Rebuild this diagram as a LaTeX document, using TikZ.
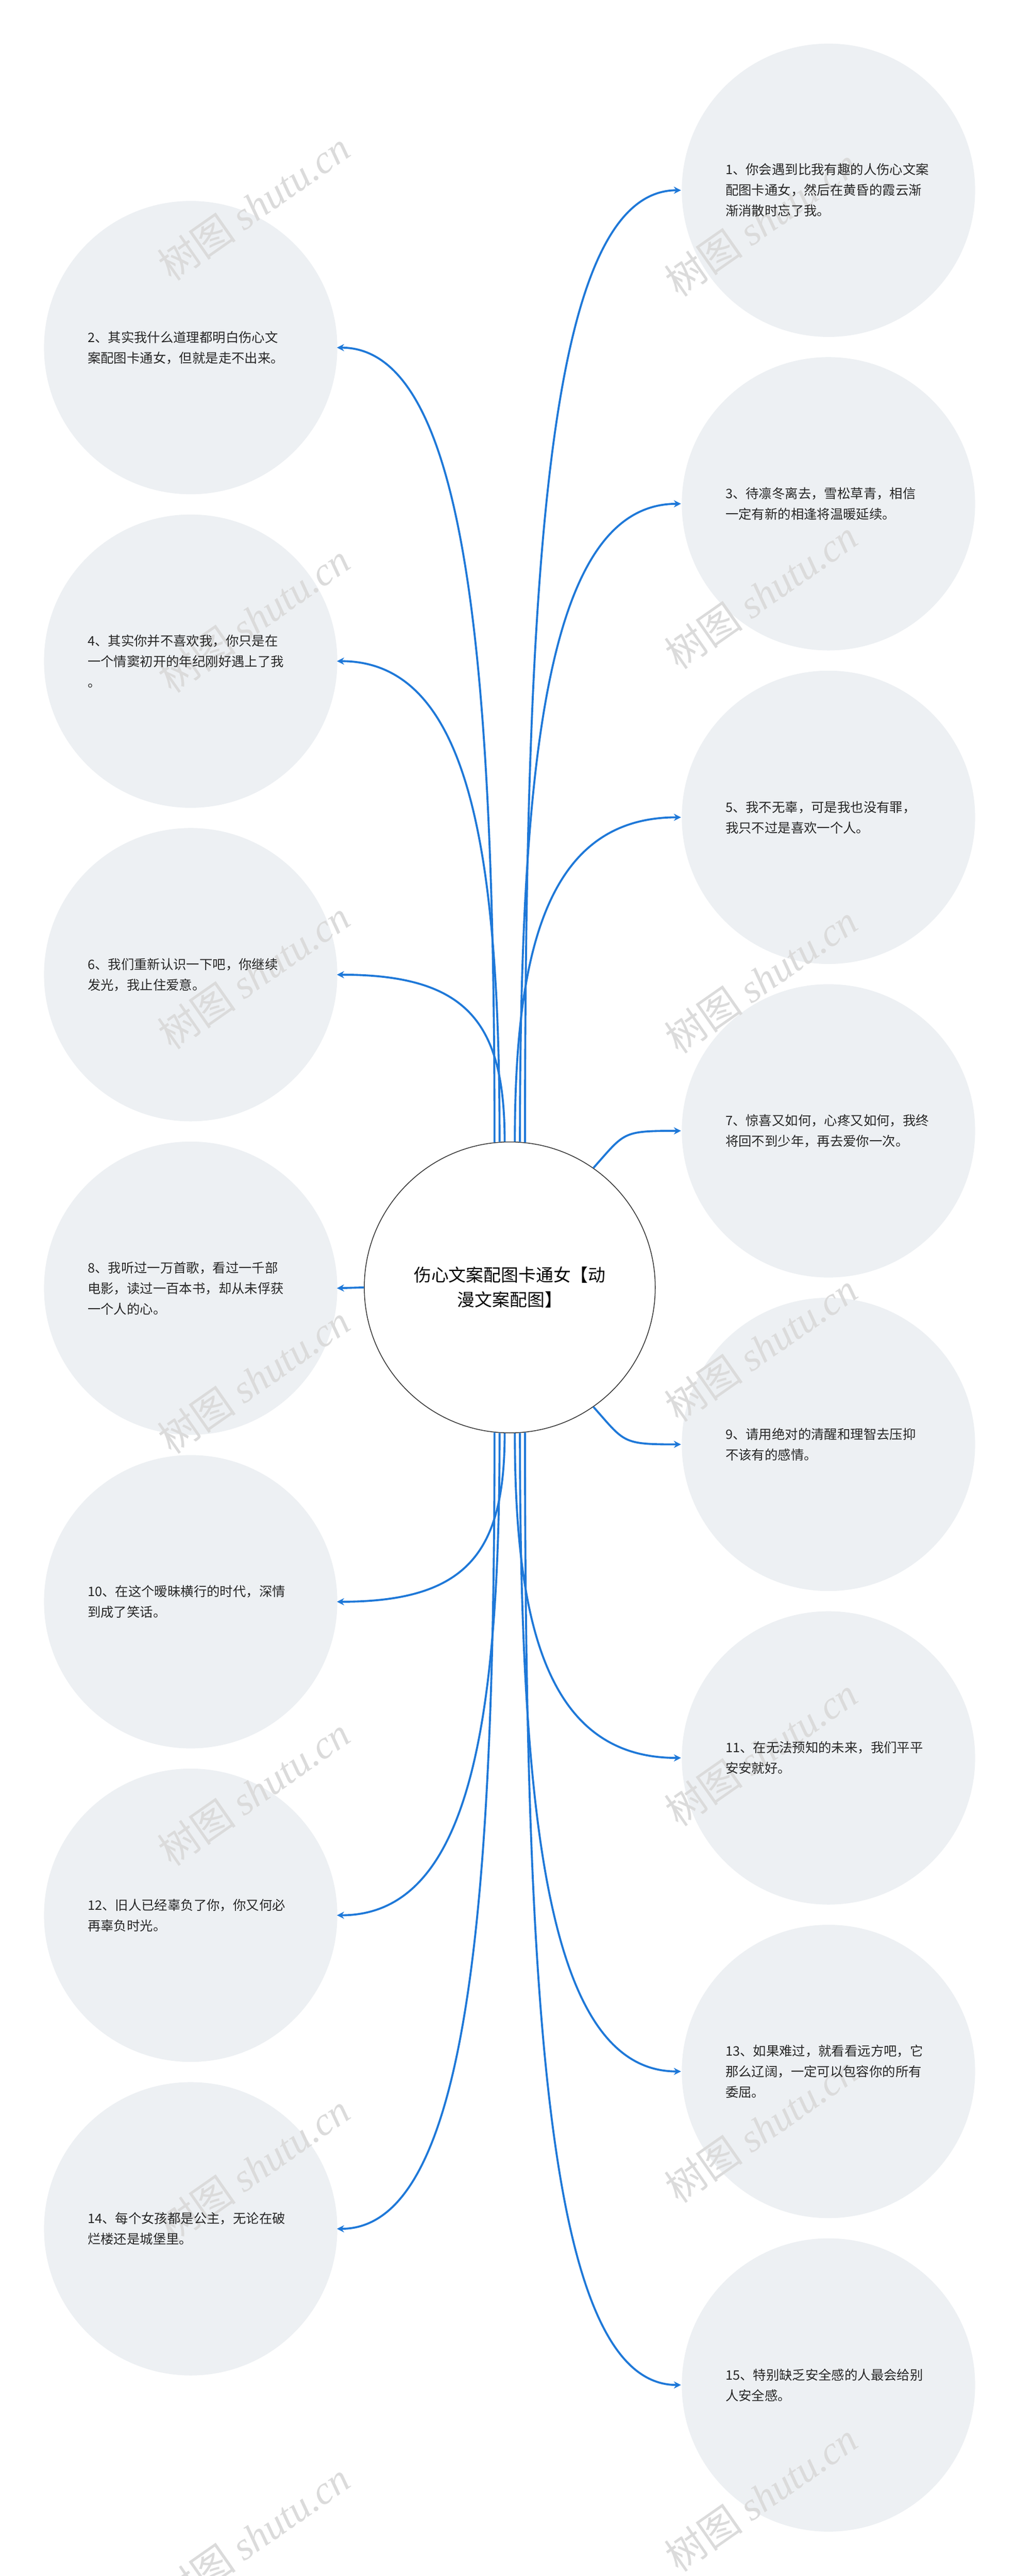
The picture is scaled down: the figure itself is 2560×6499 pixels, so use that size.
\documentclass[tikz,border=0pt]{standalone}
\usepackage{fontspec}
\setmainfont{Noto Sans CJK SC}
\newfontfamily\wmfont{Liberation Serif}
\usetikzlibrary{arrows.meta}
\definecolor{lk}{HTML}{1E78D8}
\definecolor{bub}{HTML}{EDF0F3}
\tikzset{
 leaf/.style={circle,fill=bub,minimum size=740pt,inner sep=0pt},
 ltext/.style={anchor=west,align=left,font=\fontsize{33}{52}\selectfont,text=black!85,inner sep=0pt},
 conn/.style={draw=lk,line width=5pt,-{Stealth[length=18pt,width=18pt]}},
 wm/.style={rotate=35,text=black!14,font=\fontsize{100}{100}\selectfont\itshape}
}
\begin{document}
\begin{tikzpicture}[x=1pt,y=-1pt]
\useasboundingbox (0,0) rectangle (2560,6499);
% leaves
\foreach \n/\y in {2/877,4/1668,6/2459,8/3250,10/4041,12/4832,14/5623}{
 \node[leaf] (c\n) at (481,\y) {};
 \coordinate (e\n) at (850,\y);}
\foreach \n/\y in {1/480,3/1271,5/2062,7/2853,9/3644,11/4435,13/5226,15/6017}{
 \node[leaf] (c\n) at (2090,\y) {};
 \coordinate (e\n) at (1718,\y);}
% watermarks
\foreach \x/\y in {640/520,640/1560,640/2460,640/3480,640/4520,640/5470,640/6400,1920/560,1920/1500,1920/2470,1920/3400,1920/4420,1920/5370,1920/6300}{
 \node[wm] at (\x,\y) {{\fontspec{Noto Sans CJK SC}树图} {\wmfont\itshape shutu.cn}};}
% center
\node[circle,draw=black!80,line width=2pt,fill=white,minimum size=734pt,align=center,font=\fontsize{44}{62}\selectfont] (c) at (1286,3248) {伤心文案配图卡通女【动\\漫文案配图】};
% texts
\foreach \n/\t in {
 1/{1、你会遇到比我有趣的人伤心文案\\配图卡通女，然后在黄昏的霞云渐\\渐消散时忘了我。},
 3/{3、待凛冬离去，雪松草青，相信\\一定有新的相逢将温暖延续。},
 5/{5、我不无辜，可是我也没有罪，\\我只不过是喜欢一个人。},
 7/{7、惊喜又如何，心疼又如何，我终\\将回不到少年，再去爱你一次。},
 9/{9、请用绝对的清醒和理智去压抑\\不该有的感情。},
 11/{11、在无法预知的未来，我们平平\\安安就好。},
 13/{13、如果难过，就看看远方吧，它\\那么辽阔，一定可以包容你的所有\\委屈。},
 15/{15、特别缺乏安全感的人最会给别\\人安全感。},
 2/{2、其实我什么道理都明白伤心文\\案配图卡通女，但就是走不出来。},
 4/{4、其实你并不喜欢我，你只是在\\一个情窦初开的年纪刚好遇上了我\\。},
 6/{6、我们重新认识一下吧，你继续\\发光，我止住爱意。},
 8/{8、我听过一万首歌，看过一千部\\电影，读过一百本书，却从未俘获\\一个人的心。},
 10/{10、在这个暧昧横行的时代，深情\\到成了笑话。},
 12/{12、旧人已经辜负了你，你又何必\\再辜负时光。},
 14/{14、每个女孩都是公主，无论在破\\烂楼还是城堡里。}}{
 \node[ltext] (t\n) at ([xshift=-260pt]c\n.center) {\t};}
% connectors
\draw[conn] (c.84) .. controls +(0,-1500) and +(-330,0) .. (e1);
\draw[conn] (c.86) .. controls +(0,-1000) and +(-330,0) .. (e3);
\draw[conn] (c.88) .. controls +(0,-500) and +(-330,0) .. (e5);
\draw[conn] (c.55) .. controls +(80,-90) and +(-150,0) .. (e7);
\draw[conn] (c.-55) .. controls +(80,90) and +(-150,0) .. (e9);
\draw[conn] (c.-88) .. controls +(0,500) and +(-330,0) .. (e11);
\draw[conn] (c.-86) .. controls +(0,1000) and +(-330,0) .. (e13);
\draw[conn] (c.-84) .. controls +(0,1500) and +(-330,0) .. (e15);
\draw[conn] (c.96) .. controls +(0,-1200) and +(330,0) .. (e2);
\draw[conn] (c.94) .. controls +(0,-750) and +(330,0) .. (e4);
\draw[conn] (c.92) .. controls +(0,-300) and +(330,0) .. (e6);
\draw[conn] (c.west) -- (e8);
\draw[conn] (c.-92) .. controls +(0,300) and +(330,0) .. (e10);
\draw[conn] (c.-94) .. controls +(0,750) and +(330,0) .. (e12);
\draw[conn] (c.-96) .. controls +(0,1200) and +(330,0) .. (e14);
\end{tikzpicture}
\end{document}
